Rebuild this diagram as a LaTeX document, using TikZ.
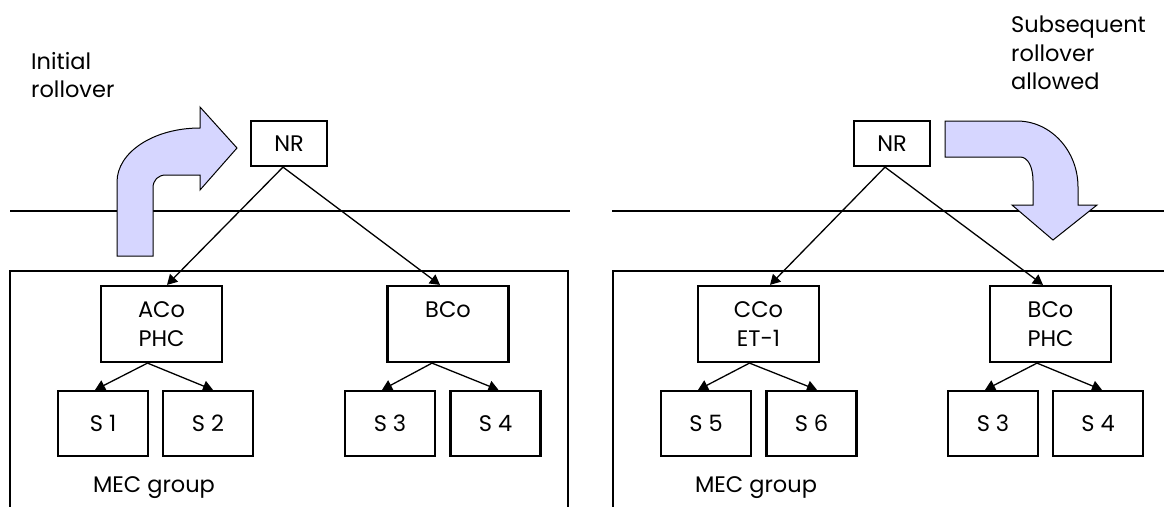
\documentclass[tikz,border=0pt]{standalone}
\usepackage{fontspec}
\setmainfont{Poppins}
\usetikzlibrary{arrows.meta}
\definecolor{lav}{RGB}{214,214,255}
\begin{document}
\begin{tikzpicture}[x=1pt,y=-1pt,
  txt/.style={font=\fontsize{22.5}{28.5}\selectfont},
  nrbox/.style={draw,line width=2.2pt,minimum width=76pt,minimum height=45pt,inner sep=0pt,txt},
  cobox/.style={draw,line width=2.2pt,minimum width=121pt,minimum height=76pt,inner sep=0pt,align=center,txt},
  sbox/.style={draw,line width=2.2pt,minimum width=90pt,minimum height=65pt,inner sep=0pt,txt},
  conn/.style={-{Triangle[length=10pt,width=11pt]},line width=1.3pt},
  lbl/.style={txt,align=left,inner sep=0pt,anchor=north west},
  bigarrow/.style={draw,line width=1pt,fill=lav,line join=miter},
  rule/.style={line width=2pt}]
\useasboundingbox (0,0) rectangle (1164,506);
\clip (0,0) rectangle (1164,506);
\fill[white] (0,0) rectangle (1164,506);

% ---------- left panel ----------
\draw[rule] (10,211) -- (570,211);
\draw[rule] (10,271) rectangle (568,540);
\path[bigarrow] (117,256) -- (117,182) .. controls (117,152) and (154,128) .. (200,128)
  -- (200,107) -- (237,148) -- (200,190) -- (200,175) -- (166,175)
  .. controls (158,175) and (153,180) .. (153,188) -- (153,256) -- cycle;
\node[lbl] (initial) at (31,52) {Initial\\rollover};

\node[nrbox] (nrL) at (289,143.5) {NR};
\node[cobox] (acoL) at (161.5,324) {ACo\\PHC};
\node[cobox] (bcoL) at (448,324) {BCo\\\vphantom{PHC}};
\node[sbox] (s1) at (103,423.5) {S 1};
\node[sbox] (s2) at (208,423.5) {S 2};
\node[sbox] (s3L) at (390,423.5) {S 3};
\node[sbox] (s4L) at (495.5,423.5) {S 4};
\node[txt,anchor=base] (mecL) at (154,492) {MEC group};

\draw[conn] ([xshift=-6pt]nrL.south) -- ([xshift=5.5pt]acoL.north);
\draw[conn] ([xshift=-6pt]nrL.south) -- ([xshift=-8pt]bcoL.north);
\draw[conn] ([xshift=-14pt]acoL.south) -- ([xshift=-8pt]s1.north);
\draw[conn] ([xshift=-14pt]acoL.south) -- ([xshift=5pt]s2.north);
\draw[conn] ([xshift=-16pt]bcoL.south) -- ([xshift=-8pt]s3L.north);
\draw[conn] ([xshift=-16pt]bcoL.south) -- ([xshift=3pt]s4L.north);

% ---------- right panel ----------
\draw[rule] (612,211) -- (1170,211);
\draw[rule] (613,271) rectangle (1180,540);
\path[bigarrow] (945,121) -- (1017,121) .. controls (1051,121) and (1078,151) .. (1078,187)
  -- (1078,205) -- (1097,205) -- (1053,240) -- (1012,205) -- (1033,205) -- (1033,181)
  .. controls (1033,167) and (1028,157) .. (1020,157) -- (945,157) -- cycle;
\node[lbl] (subseq) at (1011,16) {Subsequent\\rollover\\allowed};

\node[nrbox] (nrR) at (892,143.5) {NR};
\node[cobox] (ccoR) at (758.5,324) {CCo\\ET-1};
\node[cobox] (bcoR) at (1050.5,324) {BCo\\PHC};
\node[sbox] (s5) at (706,423.5) {S 5};
\node[sbox] (s6) at (811.5,423.5) {S 6};
\node[sbox] (s3R) at (993,423.5) {S 3};
\node[sbox] (s4R) at (1098,423.5) {S 4};
\node[txt,anchor=base] (mecR) at (756,492) {MEC group};

\draw[conn] ([xshift=-7pt]nrR.south) -- ([xshift=11.5pt]ccoR.north);
\draw[conn] ([xshift=-7pt]nrR.south) -- ([xshift=-7.5pt]bcoR.north);
\draw[conn] ([xshift=-9pt]ccoR.south) -- ([xshift=-8pt]s5.north);
\draw[conn] ([xshift=-9pt]ccoR.south) -- ([xshift=5.5pt]s6.north);
\draw[conn] ([xshift=-13.5pt]bcoR.south) -- ([xshift=-8pt]s3R.north);
\draw[conn] ([xshift=-13.5pt]bcoR.south) -- ([xshift=4pt]s4R.north);
\end{tikzpicture}
\end{document}
